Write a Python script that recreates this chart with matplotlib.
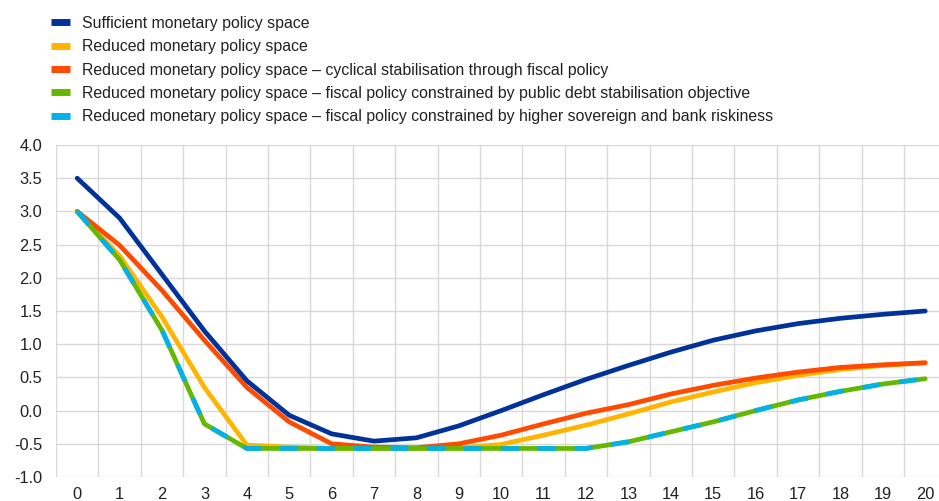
import matplotlib
matplotlib.use("Agg")
import matplotlib.pyplot as plt
from matplotlib.lines import Line2D
from matplotlib.ticker import MultipleLocator

plt.rcParams['font.family'] = ['Liberation Sans', 'DejaVu Sans']

quarters = list(range(0, 21))

sufficient = [3.50, 2.90, 2.05, 1.20, 0.45, -0.07, -0.35, -0.46, -0.41, -0.23, 0.00,
              0.24, 0.47, 0.68, 0.88, 1.06, 1.20, 1.31, 1.39, 1.45, 1.50]
reduced = [3.00, 2.33, 1.41, 0.35, -0.52, -0.55, -0.57, -0.57, -0.57, -0.56, -0.51,
           -0.37, -0.22, -0.05, 0.13, 0.28, 0.42, 0.53, 0.62, 0.68, 0.72]
cyclical = [3.00, 2.49, 1.81, 1.06, 0.35, -0.17, -0.50, -0.55, -0.56, -0.50, -0.37,
            -0.20, -0.04, 0.09, 0.25, 0.38, 0.49, 0.58, 0.65, 0.69, 0.72]
debt_constrained = [3.00, 2.27, 1.21, -0.20, -0.57, -0.57, -0.57, -0.57, -0.57, -0.57, -0.57,
                    -0.57, -0.57, -0.47, -0.32, -0.17, 0.00, 0.16, 0.29, 0.40, 0.48]
risk_constrained = [3.00, 2.27, 1.21, -0.20, -0.57, -0.57, -0.57, -0.57, -0.57, -0.57, -0.57,
                    -0.57, -0.57, -0.47, -0.32, -0.17, 0.00, 0.16, 0.29, 0.40, 0.48]

labels = [
    "Sufficient monetary policy space",
    "Reduced monetary policy space",
    "Reduced monetary policy space \u2013 cyclical stabilisation through fiscal policy",
    "Reduced monetary policy space \u2013 fiscal policy constrained by public debt stabilisation objective",
    "Reduced monetary policy space \u2013 fiscal policy constrained by higher sovereign and bank riskiness",
]
colors = ["#003299", "#FFB400", "#FF4B00", "#65B800", "#00B1EA"]

W, H = 939, 501
fig = plt.figure(figsize=(W / 100, H / 100), dpi=100)
ax_left, ax_right, ax_top, ax_bottom = 56, 939, 145, 477
ax = fig.add_axes([ax_left / W, 1 - ax_bottom / H, (ax_right - ax_left) / W, (ax_bottom - ax_top) / H])

lw = 3.4
ax.plot(quarters, reduced, color=colors[1], lw=lw, solid_capstyle='round', zorder=3)
ax.plot(quarters, cyclical, color=colors[2], lw=lw, solid_capstyle='round', zorder=4)
ax.plot(quarters, sufficient, color=colors[0], lw=lw, solid_capstyle='round', zorder=5)
ax.plot(quarters, debt_constrained, color=colors[3], lw=lw, solid_capstyle='round', zorder=6)
ax.plot(quarters, risk_constrained, color=colors[4], lw=lw, dashes=(3.8, 4.0), zorder=7)

ax.set_xlim(-0.5, -0.5 + (ax_right - ax_left) / 42.4)
ax.set_ylim(-1.0, 4.0)
ax.set_xticks(quarters)
ax.set_xticklabels([str(q) for q in quarters])
ax.xaxis.set_minor_locator(MultipleLocator(1, offset=0.5))
ax.yaxis.set_major_locator(MultipleLocator(0.5))
ax.yaxis.set_major_formatter(matplotlib.ticker.FormatStrFormatter('%.1f'))
ax.grid(False)
ax.grid(True, which='minor', axis='x', color='#d9d9d9', lw=1.0)
ax.grid(True, which='major', axis='y', color='#d9d9d9', lw=1.0)
ax.set_axisbelow(True)
for s in ax.spines.values():
    s.set_visible(False)
ax.tick_params(which='both', length=0, labelsize=11.8, colors='#222222')
ax.tick_params(axis='y', pad=10)
ax.tick_params(axis='x', pad=7)

handles = [Line2D([0], [0], color=c, lw=5, solid_capstyle='butt') for c in colors]
fig.legend(handles, labels, loc='upper left', bbox_to_anchor=(51 / W, 1 - 16 / H),
           frameon=False, fontsize=11.45, handlelength=1.2, handletextpad=0.75,
           labelspacing=0.52, borderaxespad=0, borderpad=0, labelcolor='#222222')

fig.savefig("out.png", dpi=100)
